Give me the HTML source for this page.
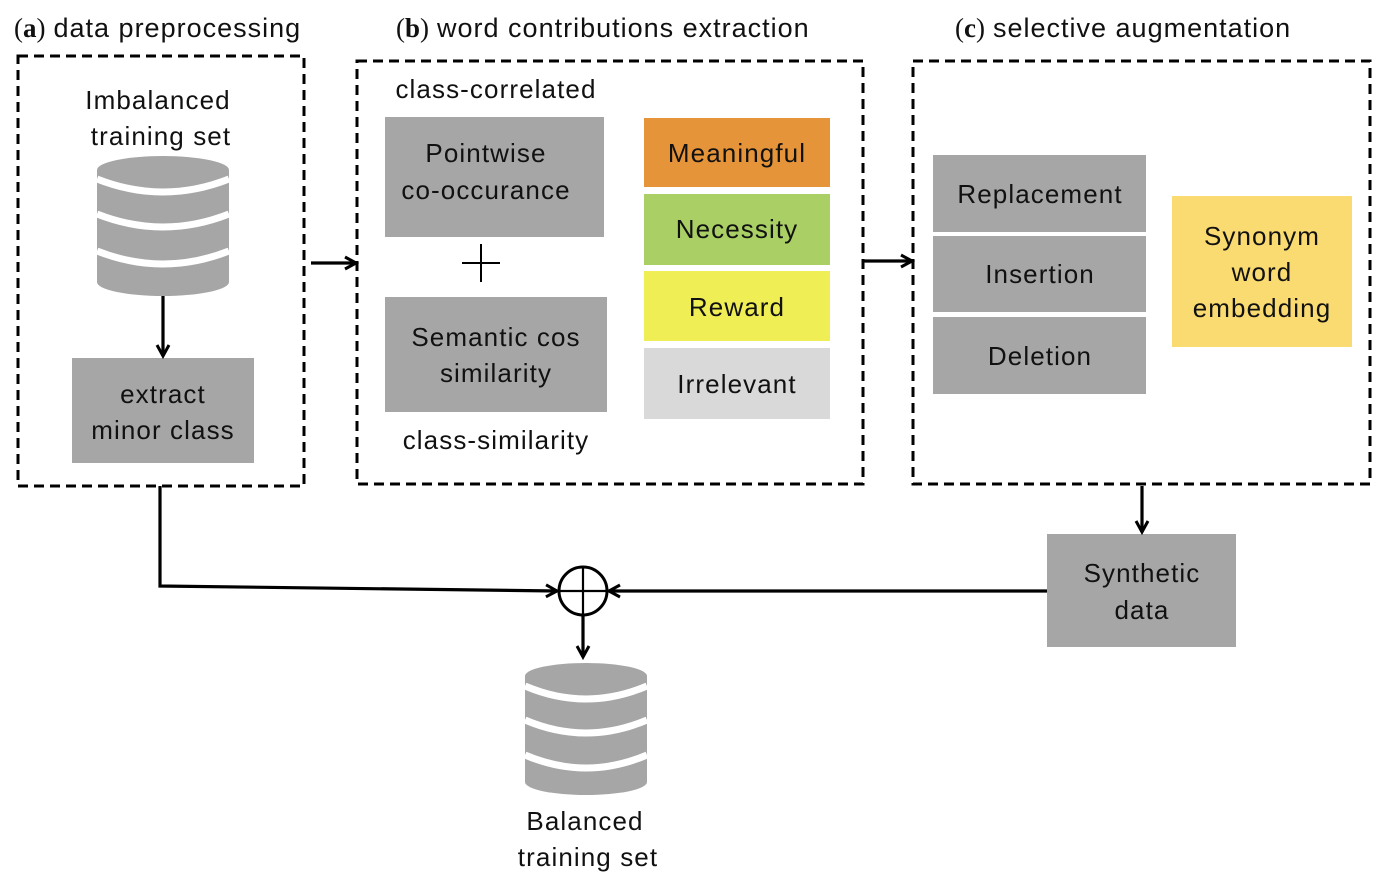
<!DOCTYPE html>
<html><head><meta charset="utf-8"><style>
html,body{margin:0;padding:0;background:#fff}
svg text{font-family:"Liberation Sans",sans-serif;font-size:26px;letter-spacing:1.1px;fill:#111}
.h{font-size:27px;letter-spacing:1px}
.s{font-family:"Liberation Serif",serif;font-size:27px;letter-spacing:0}
</style></head><body>
<svg width="1388" height="884" viewBox="0 0 1388 884" xmlns="http://www.w3.org/2000/svg">
<defs>
<marker id="ar" viewBox="0 0 16 16" refX="13" refY="8" markerWidth="16" markerHeight="16" markerUnits="userSpaceOnUse" orient="auto">
<path d="M2,2 L13,8 L2,14" fill="none" stroke="#000" stroke-width="3"/>
</marker>
</defs>

<!-- headers -->
<text x="14" y="37" class="h"><tspan class="s">(</tspan><tspan class="s" font-weight="bold">a</tspan><tspan class="s">)</tspan><tspan dx="8">data preprocessing</tspan></text>
<text x="396" y="37" class="h"><tspan class="s">(</tspan><tspan class="s" font-weight="bold">b</tspan><tspan class="s">)</tspan><tspan dx="8">word contributions extraction</tspan></text>
<text x="955" y="37" class="h"><tspan class="s">(</tspan><tspan class="s" font-weight="bold">c</tspan><tspan class="s">)</tspan><tspan dx="8">selective augmentation</tspan></text>

<!-- dashed panels -->
<g fill="none" stroke="#000" stroke-width="3" stroke-dasharray="10,6">
<rect x="18" y="56" width="286" height="430"/>
<rect x="357" y="61" width="506" height="423"/>
<rect x="913" y="61" width="457" height="423"/>
</g>

<!-- panel a -->
<text x="158" y="109" text-anchor="middle">Imbalanced</text>
<text x="161" y="145" text-anchor="middle">training set</text>
<g>
<path d="M97,170 A66,14 0 0 1 229,170 L229,282 A66,14 0 0 1 97,282 Z" fill="#a6a6a6"/>
<g fill="none" stroke="#fff" stroke-width="7">
<path d="M97,179 Q163,205 229,179"/>
<path d="M97,214 Q163,240 229,214"/>
<path d="M97,251 Q163,277 229,251"/>
</g>
</g>
<rect x="72" y="358" width="182" height="105" fill="#a6a6a6"/>
<text x="163" y="403" text-anchor="middle">extract</text>
<text x="163" y="439" text-anchor="middle">minor class</text>

<!-- panel b -->
<text x="496" y="98" text-anchor="middle">class-correlated</text>
<rect x="385" y="117" width="219" height="120" fill="#a6a6a6"/>
<text x="486" y="162" text-anchor="middle">Pointwise</text>
<text x="486" y="199" text-anchor="middle">co-occurance</text>
<path d="M462,263 H500 M481,244 V282" stroke="#000" stroke-width="2"/>
<rect x="385" y="297" width="222" height="115" fill="#a6a6a6"/>
<text x="496" y="346" text-anchor="middle">Semantic cos</text>
<text x="496" y="382" text-anchor="middle">similarity</text>
<text x="496" y="449" text-anchor="middle">class-similarity</text>

<rect x="644" y="118" width="186" height="69" fill="#e6943a"/>
<text x="737" y="162" text-anchor="middle">Meaningful</text>
<rect x="644" y="194" width="186" height="71" fill="#a9cf65"/>
<text x="737" y="238" text-anchor="middle">Necessity</text>
<rect x="644" y="271" width="186" height="70" fill="#f0ee55"/>
<text x="737" y="316" text-anchor="middle">Reward</text>
<rect x="644" y="348" width="186" height="71" fill="#d9d9d9"/>
<text x="737" y="393" text-anchor="middle">Irrelevant</text>

<!-- panel c -->
<rect x="933" y="155" width="213" height="77" fill="#a6a6a6"/>
<text x="1040" y="203" text-anchor="middle">Replacement</text>
<rect x="933" y="236" width="213" height="76" fill="#a6a6a6"/>
<text x="1040" y="283" text-anchor="middle">Insertion</text>
<rect x="933" y="317" width="213" height="77" fill="#a6a6a6"/>
<text x="1040" y="365" text-anchor="middle">Deletion</text>
<rect x="1172" y="196" width="180" height="151" fill="#fadb71"/>
<text x="1262" y="245" text-anchor="middle">Synonym</text>
<text x="1262" y="281" text-anchor="middle">word</text>
<text x="1262" y="317" text-anchor="middle">embedding</text>

<rect x="1047" y="534" width="189" height="113" fill="#a6a6a6"/>
<text x="1142" y="582" text-anchor="middle">Synthetic</text>
<text x="1142" y="619" text-anchor="middle">data</text>

<!-- circle plus -->
<circle cx="583" cy="591" r="24" fill="#fff" stroke="#000" stroke-width="3"/>
<path d="M559,591 H607 M583,567 V615" stroke="#000" stroke-width="2.2"/>

<!-- bottom db -->
<path d="M525,676 A61,13 0 0 1 647,676 L647,782 A61,13 0 0 1 525,782 Z" fill="#a6a6a6"/>
<g fill="none" stroke="#fff" stroke-width="7">
<path d="M525,686 Q586,712 647,686"/>
<path d="M525,720 Q586,746 647,720"/>
<path d="M525,755 Q586,781 647,755"/>
</g>
<text x="585" y="830" text-anchor="middle">Balanced</text>
<text x="588" y="866" text-anchor="middle">training set</text>

<!-- connectors -->
<g fill="none" stroke="#000" stroke-width="3.2" marker-end="url(#ar)">
<path d="M163,296 V356"/>
<path d="M311,263 H356"/>
<path d="M863,261 H912"/>
<path d="M1142,486 V532"/>
<path d="M160,486 V586 L557,591"/>
<path d="M1047,591 H609"/>
<path d="M583,616 V657"/>
</g>
</svg>
</body></html>
